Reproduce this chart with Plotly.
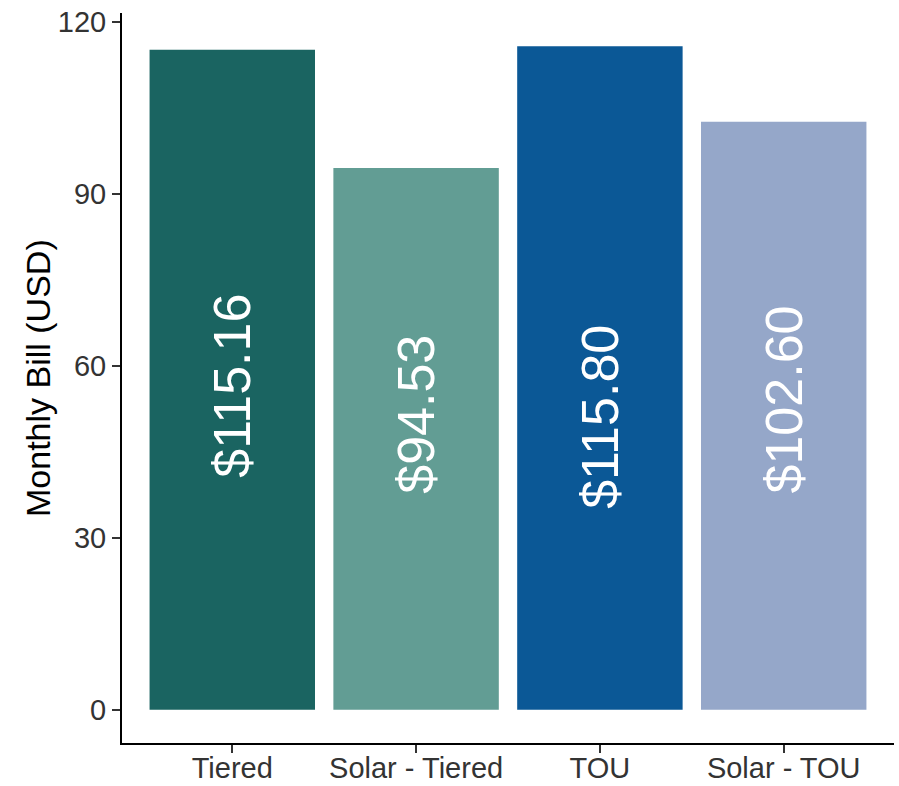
import plotly.graph_objects as go

# Monthly bill under each rate plan
categories = ["Tiered", "Solar - Tiered", "TOU", "Solar - TOU"]
bills = [115.16, 94.53, 115.80, 102.60]
bar_colors = ["#1a6461", "#629d94", "#0b5896", "#95a7c9"]
# height (USD) at which each rotated value label is centred
label_heights = [56.6, 51.5, 51.1, 54.1]
y_ticks = [0, 30, 60, 90, 120]

font_family = "Liberation Sans, Arial, sans-serif"

fig = go.Figure()
fig.add_trace(go.Bar(
    x=list(range(1, len(categories) + 1)),
    y=bills,
    width=0.9,
    marker=dict(color=bar_colors, line=dict(width=0)),
    hoverinfo="skip",
))

for i, (v, h) in enumerate(zip(bills, label_heights), start=1):
    fig.add_annotation(
        x=i, y=h, xref="x", yref="y",
        text=f"${v:.2f}", textangle=-90, showarrow=False,
        xanchor="center", yanchor="middle",
        font=dict(family=font_family, size=52, color="white"),
    )

fig.add_annotation(
    x=0, y=0.5, xref="paper", yref="paper", xshift=-84,
    text="Monthly Bill (USD)", textangle=-90, showarrow=False,
    xanchor="center", yanchor="middle",
    font=dict(family=font_family, size=34, color="black"),
)

fig.update_layout(
    width=899, height=786,
    margin=dict(l=122, r=5, t=13, b=43),
    paper_bgcolor="white", plot_bgcolor="white",
    showlegend=False,
    bargap=0.1,
    xaxis=dict(
        range=[0.4, 4.6], automargin=False,
        tickmode="array", tickvals=list(range(1, len(categories) + 1)), ticktext=categories,
        showline=True, linecolor="black", linewidth=2,
        ticks="outside", ticklen=8, tickwidth=2, tickcolor="#333333",
        ticklabelstandoff=-10,
        showgrid=False, zeroline=False,
        tickfont=dict(family=font_family, size=29, color="#333333"),
    ),
    yaxis=dict(
        range=[-5.79, 121.59], automargin=False,
        tickmode="array", tickvals=y_ticks,
        showline=True, linecolor="black", linewidth=2,
        ticks="outside", ticklen=8, tickwidth=2, tickcolor="#333333",
        showgrid=False, zeroline=False,
        tickfont=dict(family=font_family, size=29, color="#333333"),
    ),
)

fig.write_html("out.html")
